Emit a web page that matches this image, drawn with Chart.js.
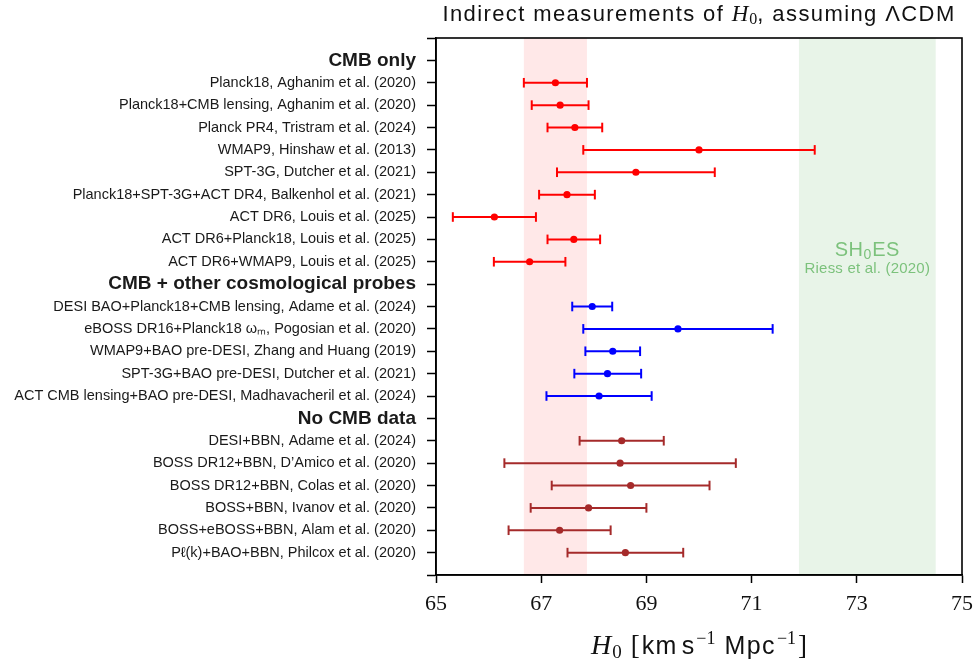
<!DOCTYPE html>
<html>
<head>
<meta charset="utf-8">
<script src="https://cdn.jsdelivr.net/npm/chart.js@4.4.1/dist/chart.umd.min.js"></script>
<style>
  html, body { margin: 0; padding: 0; background: #ffffff; }
  canvas { display: block; }
</style>
</head>
<body>
<canvas id="chart" width="975" height="663"></canvas>
<script>
// ---- H0 estimates (km/s/Mpc): central value, lower and upper ends of the 68% interval ----
const headers = ['CMB only', 'CMB + other cosmological probes', 'No CMB data'];

const cmbLabels = [
  'Planck18, Aghanim et al. (2020)',
  'Planck18+CMB lensing, Aghanim et al. (2020)',
  'Planck PR4, Tristram et al. (2024)',
  'WMAP9, Hinshaw et al. (2013)',
  'SPT-3G, Dutcher et al. (2021)',
  'Planck18+SPT-3G+ACT DR4, Balkenhol et al. (2021)',
  'ACT DR6, Louis et al. (2025)',
  'ACT DR6+Planck18, Louis et al. (2025)',
  'ACT DR6+WMAP9, Louis et al. (2025)'
];
const cmbH0 = [67.27, 67.36, 67.64, 70.0, 68.8, 67.49, 66.11, 67.62, 66.78];
const cmbLo = [66.67, 66.82, 67.12, 67.8, 67.3, 66.96, 65.32, 67.12, 66.10];
const cmbHi = [67.87, 67.90, 68.16, 72.2, 70.3, 68.02, 66.90, 68.12, 67.46];

const probeLabels = [
  'DESI BAO+Planck18+CMB lensing, Adame et al. (2024)',
  'eBOSS DR16+Planck18 \u03c9\u2098, Pogosian et al. (2020)',
  'WMAP9+BAO pre-DESI, Zhang and Huang (2019)',
  'SPT-3G+BAO pre-DESI, Dutcher et al. (2021)',
  'ACT CMB lensing+BAO pre-DESI, Madhavacheril et al. (2024)'
];
const probeH0 = [67.97, 69.6, 68.36, 68.26, 68.1];
const probeLo = [67.59, 67.8, 67.84, 67.63, 67.1];
const probeHi = [68.35, 71.4, 68.88, 68.90, 69.1];

const noCmbLabels = [
  'DESI+BBN, Adame et al. (2024)',
  'BOSS DR12+BBN, D\u2019Amico et al. (2020)',
  'BOSS DR12+BBN, Colas et al. (2020)',
  'BOSS+BBN, Ivanov et al. (2020)',
  'BOSS+eBOSS+BBN, Alam et al. (2020)',
  'P\u2113(k)+BAO+BBN, Philcox et al. (2020)'
];
const noCmbH0 = [68.53, 68.5, 68.7, 67.9, 67.35, 68.6];
const noCmbLo = [67.73, 66.3, 67.2, 66.8, 66.38, 67.5];
const noCmbHi = [69.33, 70.7, 70.2, 69.0, 68.32, 69.7];

const xTicks = [65, 67, 69, 71, 73, 75];
const planckBand = [66.67, 67.87];   // Planck18 68% interval
const shoesBand = [71.9, 74.5];      // SH0ES, Riess et al. (2020)

// ---- build the row list and datasets ----
const groups = [
  { header: headers[0], labels: cmbLabels,   h0: cmbH0,   lo: cmbLo,   hi: cmbHi,   color: '#ff0000' },
  { header: headers[1], labels: probeLabels, h0: probeH0, lo: probeLo, hi: probeHi, color: '#0000ff' },
  { header: headers[2], labels: noCmbLabels, h0: noCmbH0, lo: noCmbLo, hi: noCmbHi, color: '#a52a2a' }
];

const rowLabels = [];
const headerRows = new Set();
const datasets = [];

groups.forEach(g => {
  headerRows.add(rowLabels.length);
  rowLabels.push(g.header);
  const markers = [];
  g.labels.forEach((lab, i) => {
    const y = rowLabels.length;
    rowLabels.push(lab);
    datasets.push({
      type: 'line',
      data: [{ x: g.lo[i], y: y }, { x: g.hi[i], y: y }],
      borderColor: g.color,
      borderWidth: 2,
      showLine: true,
      fill: false,
      pointStyle: 'line',
      pointRotation: 90,
      pointRadius: 4.8,
      pointBorderWidth: 2,
      pointBorderColor: g.color,
      pointBackgroundColor: g.color,
      order: 1
    });
    markers.push({ x: g.h0[i], y: y });
  });
  datasets.push({
    type: 'scatter',
    data: markers,
    pointStyle: 'circle',
    pointRadius: 3.6,
    backgroundColor: g.color,
    borderColor: g.color,
    borderWidth: 0,
    order: 0
  });
});

const nRows = rowLabels.length;

// ---- helpers for mixed-style text ----
function drawRuns(ctx, runs, cx, y) {
  let total = 0;
  runs.forEach(r => {
    ctx.font = r.f;
    ctx.letterSpacing = (r.ls || 0) + 'px';
    r.w = ctx.measureText(r.t).width;
    total += r.w + (r.gap || 0);
  });
  let x = cx - total / 2;
  ctx.textBaseline = 'alphabetic';
  ctx.textAlign = 'left';
  runs.forEach(r => {
    ctx.font = r.f;
    ctx.letterSpacing = (r.ls || 0) + 'px';
    ctx.fillText(r.t, x, y + (r.dy || 0));
    x += r.w + (r.gap || 0);
  });
  ctx.letterSpacing = '0px';
}

const SANS = '"Liberation Sans", Arial, sans-serif';
const SERIF = '"Liberation Serif", "Times New Roman", serif';

const decorPlugin = {
  id: 'decor',
  beforeDatasetsDraw(chart) {
    const { ctx, chartArea: a, scales: { x } } = chart;
    ctx.save();
    ctx.fillStyle = 'rgba(255, 0, 0, 0.09)';
    const p0 = x.getPixelForValue(planckBand[0]), p1 = x.getPixelForValue(planckBand[1]);
    ctx.fillRect(p0, a.top, p1 - p0, a.bottom - a.top);
    ctx.fillStyle = 'rgba(0, 128, 0, 0.09)';
    const s0 = x.getPixelForValue(shoesBand[0]), s1 = x.getPixelForValue(shoesBand[1]);
    ctx.fillRect(s0, a.top, s1 - s0, a.bottom - a.top);
    ctx.restore();
  },
  afterDraw(chart) {
    const { ctx, chartArea: a, scales: { x, y } } = chart;
    ctx.save();
    // frame
    ctx.strokeStyle = '#000';
    ctx.lineWidth = 1.6;
    ctx.strokeRect(a.left, a.top, a.right - a.left, a.bottom - a.top);

    // SH0ES annotation
    const cx = x.getPixelForValue((shoesBand[0] + shoesBand[1]) / 2);
    ctx.fillStyle = '#7cc27c';
    drawRuns(ctx, [
      { t: 'SH', f: '20px ' + SANS, ls: 0.5 },
      { t: '0', f: '14px ' + SANS, dy: 3, gap: 1 },
      { t: 'ES', f: '20px ' + SANS, ls: 0.5 }
    ], cx, y.getPixelForValue(8.75));
    drawRuns(ctx, [{ t: 'Riess et al. (2020)', f: '15px ' + SANS, ls: 0.2 }], cx, y.getPixelForValue(9.5));

    // title
    const mid = (a.left + a.right) / 2;
    ctx.fillStyle = '#111';
    drawRuns(ctx, [
      { t: 'Indirect measurements of ', f: '22px ' + SANS, ls: 1.4 },
      { t: 'H', f: 'italic 23px ' + SERIF, gap: 1 },
      { t: '0', f: '16px ' + SERIF, dy: 3 },
      { t: ', assuming \u039bCDM', f: '22px ' + SANS, ls: 1.4 }
    ], mid, 21);

    // x-axis title
    drawRuns(ctx, [
      { t: 'H', f: 'italic 28px ' + SERIF, gap: 1 },
      { t: '0', f: '19px ' + SERIF, dy: 4, gap: 9 },
      { t: '[', f: '27px ' + SERIF, gap: 2 },
      { t: 'km', f: '25px ' + SANS, ls: 1.4, gap: 4 },
      { t: 's', f: '25px ' + SANS, gap: 2 },
      { t: '\u22121', f: '18px ' + SERIF, dy: -10, gap: 9 },
      { t: 'Mpc', f: '25px ' + SANS, ls: 1.4, gap: 1 },
      { t: '\u22121', f: '18px ' + SERIF, dy: -10, gap: 2 },
      { t: ']', f: '27px ' + SERIF }
    ], mid, 654);
    ctx.restore();
  }
};

new Chart(document.getElementById('chart'), {
  type: 'scatter',
  data: { datasets },
  plugins: [decorPlugin],
  options: {
    responsive: false,
    animation: false,
    devicePixelRatio: 1,
    layout: { padding: { top: 38, right: 13, left: 0, bottom: 0 } },
    plugins: { legend: { display: false }, tooltip: { enabled: false }, title: { display: false } },
    scales: {
      x: {
        type: 'linear',
        min: 65,
        max: 75,
        afterBuildTicks: s => { s.ticks = xTicks.map(v => ({ value: v })); },
        afterFit: s => { s.height = 88; s.paddingLeft = 0; s.paddingRight = 0; },
        grid: { drawOnChartArea: false, drawTicks: true, tickLength: 8, tickWidth: 1.5, tickColor: '#000' },
        border: { display: true, color: '#000', width: 1.6 },
        ticks: { color: '#111', padding: 8, font: { family: SERIF, size: 22 } }
      },
      y: {
        type: 'linear',
        reverse: true,
        min: -1,
        max: nRows,
        afterBuildTicks: s => {
          const t = [];
          for (let v = -1; v <= nRows; v++) t.push({ value: v });
          s.ticks = t;
        },
        afterFit: s => { s.width = 436; s.paddingTop = 0; s.paddingBottom = 0; },
        grid: { drawOnChartArea: false, drawTicks: true, tickLength: 9, tickWidth: 1.5, tickColor: '#000' },
        border: { display: true, color: '#000', width: 1.6 },
        ticks: {
          autoSkip: false,
          color: '#1a1a1a',
          padding: 11,
          callback: v => (rowLabels[v] !== undefined ? rowLabels[v] : ''),
          font: ctx => headerRows.has(ctx.tick && ctx.tick.value)
            ? { family: SANS, size: 19, weight: 'bold' }
            : { family: SANS, size: 14.5, weight: 'normal' }
        }
      }
    }
  }
});
</script>
</body>
</html>
